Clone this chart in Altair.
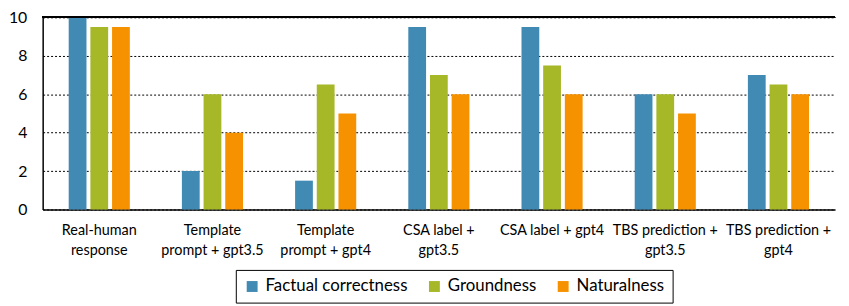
import altair as alt
import pandas as pd

categories = ["Real-human|response", "Template|prompt + gpt3.5", "Template|prompt + gpt4",
              "CSA label +|gpt3.5", "CSA label + gpt4", "TBS prediction +|gpt3.5", "TBS prediction +|gpt4"]
series = ["Factual correctness", "Groundness", "Naturalness"]
factual = [10, 2, 1.5, 9.5, 9.5, 6, 7]
groundness = [9.5, 6, 6.5, 7, 7.5, 6, 6.5]
naturalness = [9.5, 4, 5, 6, 6, 5, 6]
y_ticks = [0, 2, 4, 6, 8, 10]
colors = ["#418AB3", "#A6B727", "#F69200"]

rows = []
for i, c in enumerate(categories):
    for s, vals in zip(series, [factual, groundness, naturalness]):
        rows.append({"cat": c, "series": s, "value": vals[i]})
df = pd.DataFrame(rows)

FONT = "Lato"

y_axis = alt.Axis(values=y_ticks, ticks=False, domainColor="black",
                  domainWidth=1.5, gridColor="black", gridDash=[2, 2], gridWidth=1,
                  labelFontSize=16, labelColor="black", labelPadding=16,
                  labelFont=FONT, labelOverlap=False, labelFlush=False, title=None)
y_scale = alt.Scale(domain=[0, 10])

bars = alt.Chart(df).mark_bar().encode(
    x=alt.X("cat:N", sort=categories, title=None,
            scale=alt.Scale(paddingInner=0.46, paddingOuter=0.23),
            axis=alt.Axis(labelAngle=0, labelExpr="split(datum.label, '|')", ticks=False,
                          domainColor="black", domainWidth=1.5, labelFontSize=14.5,
                          labelColor="black", labelPadding=14, labelLineHeight=20,
                          labelFont=FONT, labelOverlap=False)),
    xOffset=alt.XOffset("series:N", sort=series, scale=alt.Scale(paddingInner=0.18)),
    y=alt.Y("value:Q", title=None, scale=y_scale, axis=y_axis),
    color=alt.Color("series:N", sort=series, title=None,
                    scale=alt.Scale(domain=series, range=colors),
                    legend=alt.Legend(orient="none", direction="horizontal", legendX=195,
                                      legendY=255, symbolType="square", symbolSize=121,
                                      symbolStrokeWidth=0, labelFontSize=17, labelFont=FONT,
                                      labelColor="black", strokeColor="black", padding=8,
                                      columnPadding=18, labelOffset=5)),
)

top = alt.Chart(df).mark_rule(color="black", strokeWidth=1.5).encode(
    y=alt.YDatum(10, scale=y_scale, axis=y_axis))

chart = alt.layer(bars, top).properties(
    width=800, height=194,
    autosize=alt.AutoSizeParams(type="none"),
    padding={"left": 35, "top": 8, "right": 6, "bottom": 96},
).configure_view(stroke=None)

chart.save("out.html", embed_options={"renderer": "svg", "actions": False})
